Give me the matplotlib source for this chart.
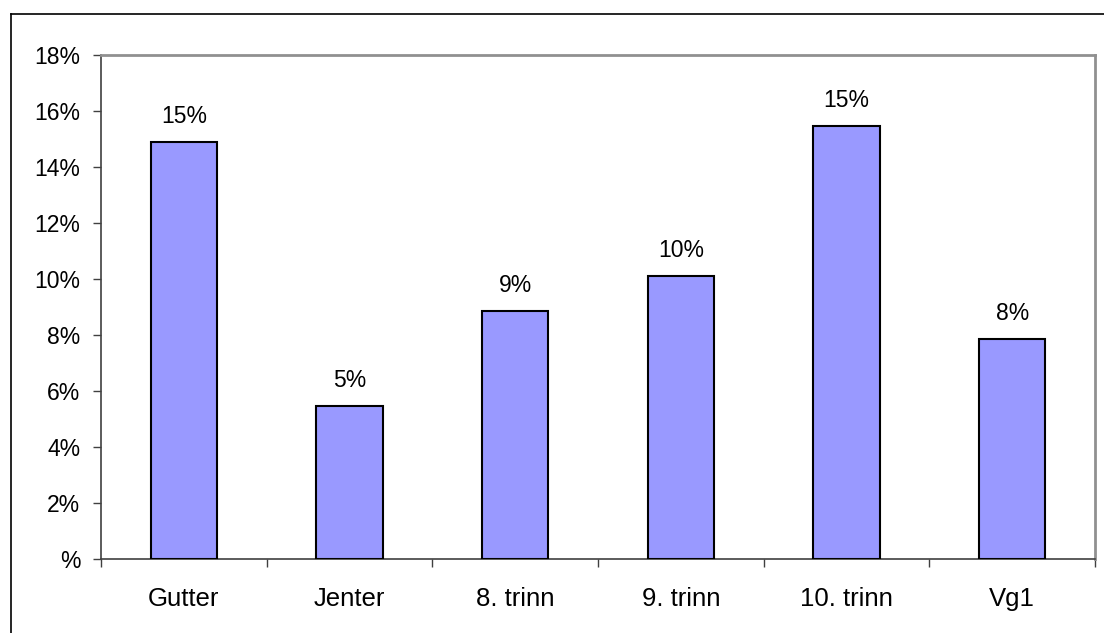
import matplotlib
matplotlib.use("Agg")
import matplotlib.pyplot as plt
from matplotlib.lines import Line2D
import numpy as np

categories = ["Gutter", "Jenter", "8. trinn", "9. trinn", "10. trinn", "Vg1"]
values = [14.9, 5.45, 8.85, 10.1, 15.45, 7.85]
labels = ["15%", "5%", "9%", "10%", "15%", "8%"]
yticks = [0, 2, 4, 6, 8, 10, 12, 14, 16, 18]
yticklabels = ["%", "2%", "4%", "6%", "8%", "10%", "12%", "14%", "16%", "18%"]

plt.rcParams['font.family'] = ['Liberation Sans', 'DejaVu Sans']

fig = plt.figure(figsize=(11.04, 6.33), dpi=100)
ax = fig.add_axes([101/1104, 1-559/633, (1095-101)/1104, (559-55)/633])

x = np.arange(len(categories))
ax.bar(x, values, width=0.4, color='#9999FF', edgecolor='black', linewidth=1.5, zorder=3)
for xi, v, lab in zip(x, values, labels):
    ax.text(xi, v + 0.5, lab, ha='center', va='bottom', fontsize=16.5)

ax.set_xlim(-0.5, len(categories) - 0.5)
ax.set_ylim(0, 18)
ax.set_yticks(yticks)
ax.set_yticklabels(yticklabels, fontsize=16.5)
ax.set_xticks(x)
ax.set_xticklabels(categories, fontsize=18.5)
ax.tick_params(axis='x', length=0, pad=20)
ax.set_xticks(np.arange(-0.5, len(categories)), minor=True)
ax.tick_params(axis='x', which='minor', length=6, width=1, direction='out', color='#404040')
ax.tick_params(axis='y', length=6, width=1, direction='out', color='#404040', pad=9)

for s in ['top', 'right']:
    ax.spines[s].set_color('#909090')
    ax.spines[s].set_linewidth(2)
for s in ['left', 'bottom']:
    ax.spines[s].set_color('#404040')
    ax.spines[s].set_linewidth(1.2)

# outer chart border (top and left)
fig.add_artist(Line2D([10.5/1104, 1.0], [1-14/633, 1-14/633], transform=fig.transFigure, color='black', lw=1.2))
fig.add_artist(Line2D([10.5/1104, 10.5/1104], [0, 1-14/633], transform=fig.transFigure, color='black', lw=1.2))

fig.savefig("out.png", dpi=100)
